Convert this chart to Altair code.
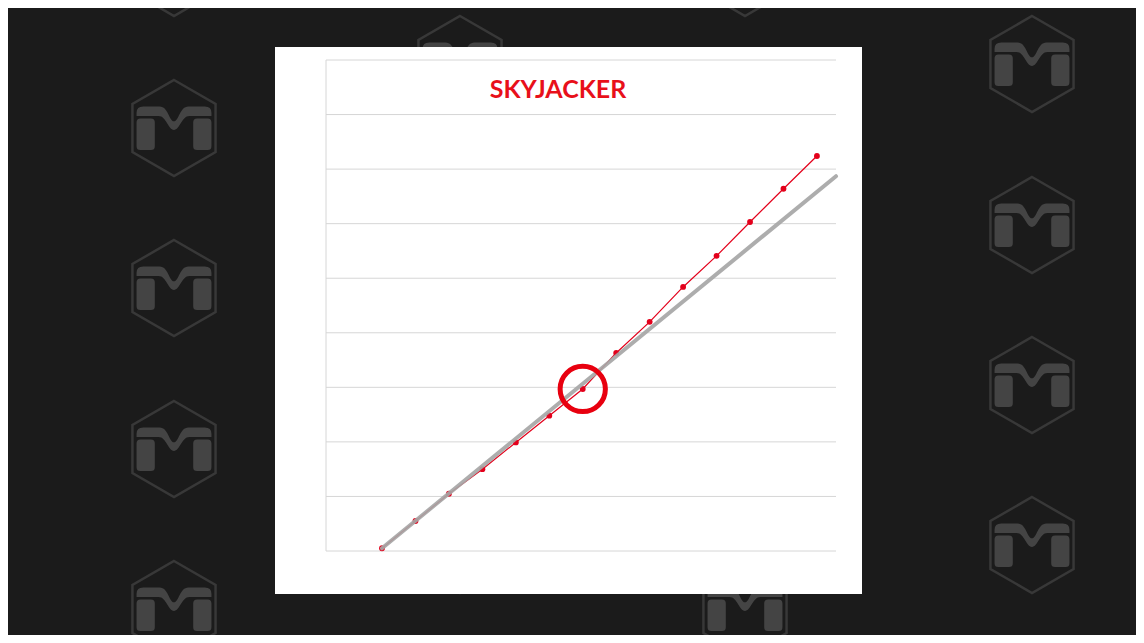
import altair as alt
import pandas as pd

title_text = "SKYJACKER"

# measured series (index along x, value along y)
point_index = [0, 1, 2, 3, 4, 5, 6, 7, 8, 9, 10, 11, 12, 13]
point_value = [0.05, 0.55, 1.05, 1.50, 1.99, 2.48, 2.97, 3.63, 4.20, 4.84, 5.41, 6.03, 6.64, 7.24]

# straight reference (trend) line
trend_index = [0, 13.57]
trend_value = [0.05, 6.87]

# highlighted point
highlight_index = [6]
highlight_value = [2.97]

y_ticks = [0, 1, 2, 3, 4, 5, 6, 7, 8, 9]

# background watermark logo centres (pixels, relative to the plot origin)
wm_x = [-152, -152, -152, -152, -152, 134, 134, 134, 134, 419, 419, 419, 419, 419, 706, 706, 706, 706]
wm_y = [-92, 68, 228, 389, 549, 4, 165, 325, 485, -92, 68, 228, 389, 549, 4, 165, 325, 485]

HEX = "M 0 -1 L 0.866 -0.5 L 0.866 0.5 L 0 1 L -0.866 0.5 L -0.866 -0.5 Z"
MLOGO = ("M -0.78 -0.12 Q -0.78 -0.20 -0.70 -0.20 L -0.48 -0.20 Q -0.40 -0.20 -0.40 -0.12 "
         "L -0.40 0.38 Q -0.40 0.46 -0.48 0.46 L -0.70 0.46 Q -0.78 0.46 -0.78 0.38 Z "
         "M 0.40 -0.12 Q 0.40 -0.20 0.48 -0.20 L 0.70 -0.20 Q 0.78 -0.20 0.78 -0.12 "
         "L 0.78 0.38 Q 0.78 0.46 0.70 0.46 L 0.48 0.46 Q 0.40 0.46 0.40 0.38 Z "
         "M -0.78 -0.32 Q -0.78 -0.45 -0.64 -0.45 L -0.30 -0.45 C -0.12 -0.45 -0.10 -0.14 0 -0.14 "
         "C 0.10 -0.14 0.12 -0.45 0.30 -0.45 L 0.64 -0.45 Q 0.78 -0.45 0.78 -0.32 L 0.78 -0.25 "
         "L 0.32 -0.25 C 0.16 -0.25 0.12 0.04 0 0.04 C -0.12 0.04 -0.16 -0.25 -0.32 -0.25 "
         "L -0.78 -0.25 Z")

pts = pd.DataFrame({"i": point_index, "v": point_value})
trend = pd.DataFrame({"i": trend_index, "v": trend_value})
hl = pd.DataFrame({"i": highlight_index, "v": highlight_value})
grid = pd.DataFrame({"v": y_ticks})
wm = pd.DataFrame({"px": wm_x, "py": wm_y})

xs = alt.Scale(domain=[-1.674, 13.57], nice=False, zero=False)
ys = alt.Scale(domain=[0, 9], nice=False)

x_enc = alt.X("i:Q", scale=xs, axis=None)
y_enc = alt.Y("v:Q", scale=ys, axis=None)

wm_hex = alt.Chart(wm).mark_point(shape=HEX, filled=False, color="#383838", strokeWidth=2.5,
                                  size=9216, opacity=1).encode(
    x=alt.X("px:Q", scale=None, axis=None), y=alt.Y("py:Q", scale=None, axis=None))
wm_m = alt.Chart(wm).mark_point(shape=MLOGO, filled=True, color="#444444", size=9216,
                                opacity=1, strokeWidth=0).encode(
    x=alt.X("px:Q", scale=None, axis=None), y=alt.Y("py:Q", scale=None, axis=None))

panel = alt.Chart(pd.DataFrame({"a": [0]})).mark_rect(color="white").encode(
    x=alt.value(-51), x2=alt.value(536), y=alt.value(-13), y2=alt.value(534)
)

background = alt.layer(wm_hex, wm_m, panel)

gridlines = alt.Chart(grid).mark_rule(color="#d6d6d6", strokeWidth=1).encode(
    y=y_enc, x=alt.value(0), x2=alt.value(510))
left_axis = alt.Chart(pd.DataFrame({"a": [0]})).mark_rule(color="#d6d6d6", strokeWidth=1).encode(
    x=alt.value(0), y=alt.value(0), y2=alt.value(491))

red_line = alt.Chart(pts).mark_line(color="#e3001b", strokeWidth=1.2).encode(x=x_enc, y=y_enc)
red_pts = alt.Chart(pts).mark_point(filled=True, color="#e3001b", size=34, opacity=1).encode(x=x_enc, y=y_enc)
gray = alt.Chart(trend).mark_line(color="#a6a6a6", strokeWidth=4, strokeCap="round", opacity=0.92).encode(
    x=x_enc, y=y_enc)
circle = alt.Chart(hl).mark_point(shape="circle", filled=False, color="#e8000f", strokeWidth=5,
                                   size=2050, opacity=1).encode(x=x_enc, y=y_enc)
title = alt.Chart(pd.DataFrame({"t": [title_text]})).mark_text(
    font="Lato", fontWeight="bold", fontSize=25, color="#e8101a",
    align="center", baseline="alphabetic").encode(
    text="t:N", x=alt.value(232), y=alt.value(38))

main = alt.layer(gridlines, left_axis, red_line, red_pts, gray, circle, title)

chart = alt.layer(background, main).resolve_scale(x="independent", y="independent").properties(
    width=510, height=491,
    background="#1b1b1b",
    padding={"left": 318, "top": 52, "right": 300, "bottom": 84},
    autosize=alt.AutoSizeParams(type="none"),
).configure_view(stroke=None)

chart.save("out.html", embed_options={"renderer": "svg", "actions": False})
